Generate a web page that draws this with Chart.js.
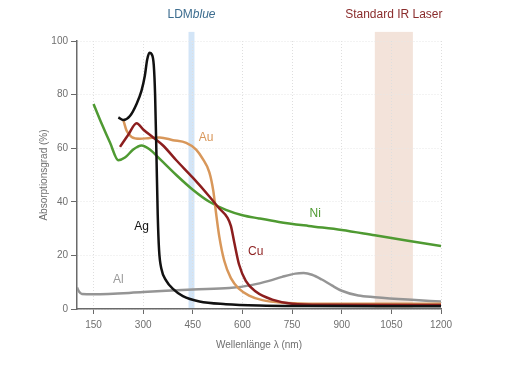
<!DOCTYPE html>
<html>
<head>
<meta charset="utf-8">
<script src="https://cdn.jsdelivr.net/npm/chart.js@4/dist/chart.umd.min.js"></script>
<style>
  html, body { margin: 0; padding: 0; background: #fff; }
  #wrap { width: 526px; height: 371px; position: relative; }
</style>
</head>
<body>
<div id="wrap"><canvas id="chart"></canvas></div>
<script>
// wavelength ticks (nm) and absorption ticks (%)
const xTicks = [150, 300, 450, 600, 750, 900, 1050, 1200];
const yTicks = [0, 20, 40, 60, 80, 100];

// Ag
const agX = [225, 240, 260, 280, 295, 305, 312, 319, 326, 332, 336, 340, 344, 348, 355, 370, 390, 420, 470, 550, 650, 800, 1000, 1200];
const agY = [71.5, 70.5, 72, 76.5, 81.5, 87, 93, 95.6, 95, 91, 80, 58, 35, 22, 15, 10.5, 7.5, 4.8, 2.8, 1.8, 1.3, 1.1, 1.0, 1.0];
// Au
const auX = [240, 250, 265, 290, 320, 350, 390, 430, 460, 480, 500, 512, 520, 530, 545, 565, 590, 620, 660, 720, 800, 1000, 1200];
const auY = [70.5, 66.5, 64.2, 63.5, 63.8, 64, 63, 62, 59.5, 56, 51, 44, 36, 27, 18, 11.5, 7.5, 5, 3.3, 2.3, 2, 2, 2];
// Cu
const cuX = [230, 255, 280, 300, 330, 360, 400, 450, 500, 530, 555, 565, 575, 590, 610, 640, 690, 750, 850, 1200];
const cuY = [60.5, 65, 69.3, 67, 64, 61, 55.5, 49, 42, 37.5, 34, 31, 25, 16.5, 10.5, 6.5, 3.5, 2, 1.6, 1.5];
// Ni
const niX = [150, 175, 200, 225, 245, 270, 295, 320, 350, 400, 450, 500, 550, 600, 650, 710, 800, 900, 1000, 1100, 1200];
const niY = [76.5, 69, 62, 55.5, 56.5, 59.5, 61, 59.5, 56, 50, 44.5, 40, 37, 35, 33.8, 32.5, 31, 29.5, 27.5, 25.5, 23.5];
// Al
const alX = [100, 106, 115, 150, 300, 450, 560, 630, 680, 720, 760, 785, 810, 840, 870, 900, 950, 1000, 1100, 1200];
const alY = [8, 6.5, 5.6, 5.5, 6.3, 7.3, 7.8, 9, 10.5, 12, 13.2, 13.4, 12.8, 11, 8.8, 6.8, 5, 4.4, 3.5, 2.8];

// laser bands (nm)
const blueBand = [437, 455];
const irBand = [1000, 1115];

// curve labels: [text, nm, %]
const curveLabels = [
  ["Ag", 295, 30.8, "#111111"],
  ["Au", 490, 64, "#d8975a"],
  ["Cu", 640, 21.5, "#8c1e1e"],
  ["Ni", 820, 35.4, "#4f9a32"],
  ["Al", 225, 11, "#9a9a9a"],
];

function pts(xs, ys) {
  return xs.map((x, i) => ({ x: x, y: ys[i] }));
}

const FONT = "'Liberation Sans', Arial, sans-serif";

const bandPlugin = {
  id: "bands",
  beforeDraw(chart) {
    const { ctx, scales: { x, y } } = chart;
    const top = y.getPixelForValue(103.4);
    const bottom = y.getPixelForValue(0);
    ctx.save();
    ctx.fillStyle = "#d3e5f7";
    let l = x.getPixelForValue(blueBand[0]), r = x.getPixelForValue(blueBand[1]);
    ctx.fillRect(l, top, r - l, bottom - top);
    ctx.fillStyle = "#f3e3da";
    l = x.getPixelForValue(irBand[0]); r = x.getPixelForValue(irBand[1]);
    ctx.fillRect(l, top, r - l, bottom - top);

    // band titles
    ctx.textBaseline = "middle";
    ctx.font = "12px " + FONT;
    const bx = x.getPixelForValue((blueBand[0] + blueBand[1]) / 2);
    const w1 = ctx.measureText("LDM").width;
    ctx.font = "italic 12px " + FONT;
    const w2 = ctx.measureText("blue").width;
    let sx = bx - (w1 + w2) / 2;
    ctx.fillStyle = "#3d6d8f";
    ctx.textAlign = "left";
    ctx.font = "12px " + FONT;
    ctx.fillText("LDM", sx, 15);
    ctx.font = "italic 12px " + FONT;
    ctx.fillText("blue", sx + w1, 15);
    ctx.font = "12px " + FONT;
    ctx.textAlign = "center";
    ctx.fillStyle = "#8a2c2c";
    ctx.fillText("Standard IR Laser", x.getPixelForValue((irBand[0] + irBand[1]) / 2), 15);
    ctx.restore();
  },
  afterDatasetsDraw(chart) {
    const { ctx, scales: { x, y } } = chart;
    ctx.save();
    ctx.font = "12px " + FONT;
    ctx.textAlign = "center";
    ctx.textBaseline = "middle";
    curveLabels.forEach(([t, nm, v, c]) => {
      ctx.fillStyle = c;
      ctx.fillText(t, x.getPixelForValue(nm), y.getPixelForValue(v));
    });
    ctx.restore();
  },
};

function line(label, data, color, order) {
  return {
    label: label,
    data: data,
    borderColor: color,
    borderWidth: 2.5,
    pointRadius: 0,
    showLine: true,
    fill: false,
    cubicInterpolationMode: "monotone",
    order: order,
  };
}

new Chart(document.getElementById("chart").getContext("2d"), {
  type: "scatter",
  data: {
    datasets: [
      line("Ag", pts(agX, agY), "#111111", 1),
      line("Cu", pts(cuX, cuY), "#8c1e1e", 2),
      line("Au", pts(auX, auY), "#d8975a", 3),
      line("Ni", pts(niX, niY), "#4f9a32", 4),
      line("Al", pts(alX, alY), "#959595", 5),
    ],
  },
  options: {
    responsive: true,
    maintainAspectRatio: false,
    animation: false,
    layout: { padding: { left: 38, right: 85, top: 41, bottom: 16 } },
    plugins: { legend: { display: false }, tooltip: { enabled: false } },
    scales: {
      x: {
        type: "linear",
        min: 100,
        max: 1200,
        afterBuildTicks: (s) => { s.ticks = xTicks.map((v) => ({ value: v })); },
        afterFit: (s) => { s.height = 46; },
        grid: { color: "#dedede", tickColor: "#6a6a6a", tickLength: 5, tickBorderDash: [] },
        border: { color: "#6a6a6a", width: 1.5, dash: [1, 2] },
        ticks: { color: "#6f6f6f", font: { family: FONT, size: 10 }, padding: 5, maxRotation: 0, autoSkip: false, callback: (v) => String(v) },
        title: { display: true, text: "Wellenlänge λ (nm)", color: "#6f6f6f", font: { family: FONT, size: 10 }, padding: { top: 4, bottom: 4 } },
      },
      y: {
        min: 0,
        max: 100,
        afterBuildTicks: (s) => { s.ticks = yTicks.map((v) => ({ value: v })); },
        afterFit: (s) => { s.width = 39; },
        grid: { color: "#e6e6e6", tickColor: "#6a6a6a", tickLength: 6, tickBorderDash: [] },
        border: { color: "#6a6a6a", width: 1.5, dash: [1, 2] },
        ticks: { color: "#6f6f6f", font: { family: FONT, size: 10 }, padding: 3, callback: (v) => String(v) },
        title: { display: true, text: "Absorptionsgrad (%)", color: "#6f6f6f", font: { family: FONT, size: 10 }, padding: { top: 0, bottom: 0 } },
      },
    },
  },
  plugins: [bandPlugin],
});
</script>
</body>
</html>
